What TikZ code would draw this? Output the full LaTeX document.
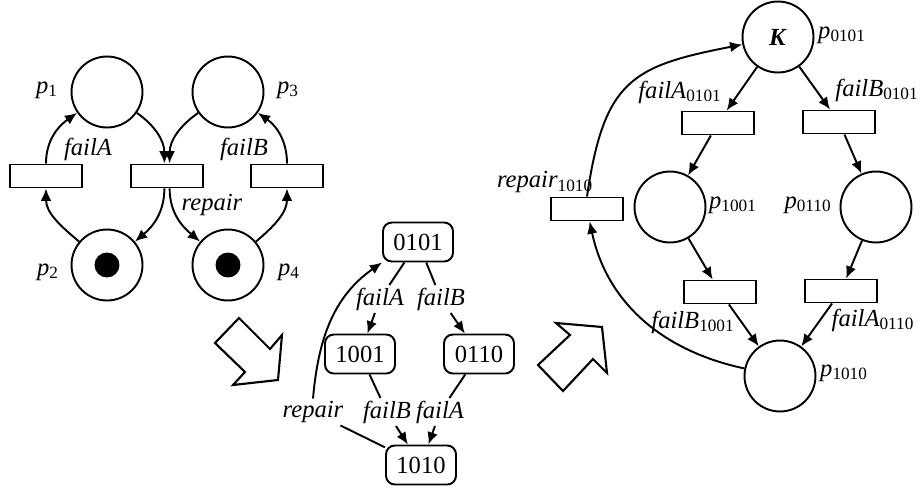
\documentclass[tikz,border=0pt]{standalone}
\usepackage{fontspec}
\setmainfont{Liberation Serif}
\usepackage{tikz}
\usetikzlibrary{arrows.meta}
\newcommand{\pnsub}[2]{\textit{#1}\textsubscript{#2}}

\begin{document}
\begin{tikzpicture}[place/.style={shape=circle,draw,minimum size=1.42cm,inner sep=0},
							trans/.style={shape=rectangle,draw,minimum width=1.45cm,minimum height=0.46cm,inner sep=0},
							state/.style={shape=rectangle,draw,rounded corners=5pt,minimum width=1.4cm,minimum height=0.78cm},
							token/.style={shape=circle,fill,minimum size=0.5cm,inner sep=0},
							lbl/.style={inner sep=1pt},
							arc/.style={->}, hollow/.style={line width=1.2pt,line join=miter},
							>={Latex[length=7pt,width=6pt]}, line width=1.1pt, x=0.02cm, y=0.02cm, font=\fontsize{14}{16}\selectfont]
			\useasboundingbox (0,0) rectangle (920,-490);
			% net with two components
			\node[place] (p1) at (107,-92) {};
			\node[place] (p3) at (228,-92) {};
			\node[place] (p2) at (107,-265) {};
			\node[place] (p4) at (228,-265) {};
			\node[token] (k2) at (p2) {};
			\node[token] (k4) at (p4) {};
			\node[trans] (tA) at (46,-176) {};
			\node[trans] (tR) at (167,-176) {};
			\node[trans] (tB) at (287,-176) {};
			\node (lp1) at (47,-90) {\pnsub{p}{1}};
			\node (lp3) at (288,-90) {\pnsub{p}{3}};
			\node (lp2) at (48,-272) {\pnsub{p}{2}};
			\node (lp4) at (289,-272) {\pnsub{p}{4}};
			\node[lbl] (ltA) at (88,-149) {\textit{failA}};
			\node[lbl] (ltB) at (244,-149) {\textit{failB}};
			\node[lbl] (ltR) at (212,-205) {\textit{repair}};
			\draw[arc] (p2) to[out=140,in=-90] (tA); \draw[arc] (tA) to[out=90,in=215] (p1);
			\draw[arc] (p1) to[out=-35,in=90] ([xshift=-1.5pt]tR.north); \draw[arc] (p3) to[out=215,in=90] ([xshift=1.5pt]tR.north);
			\draw[arc] ([xshift=-1.5pt]tR.south) to[out=-90,in=40] (p2); \draw[arc] ([xshift=1.5pt]tR.south) to[out=-90,in=140] (p4);
			\draw[arc] (p4) to[out=40,in=-90] (tB); \draw[arc] (tB) to[out=90,in=-35] (p3);
			% reachability graph
			\node[state] (s0101) at (418,-242) {0101};
			\node[state] (s1001) at (360,-354) {1001};
			\node[state] (s0110) at (479,-354) {0110};
			\node[state] (s1010) at (421,-465) {1010};
			\node[lbl] (gA1) at (380,-299) {\textit{failA}};
			\node[lbl] (gB1) at (441,-299) {\textit{failB}};
			\node[lbl] (gB2) at (387,-412) {\textit{failB}};
			\node[lbl] (gA2) at (440,-412) {\textit{failA}};
			\node[lbl] (gR) at (313,-412) {\textit{repair}};
			\draw (s0101) -- (gA1); \draw[arc] (gA1) -- (s1001);
			\draw (s0101) -- (gB1); \draw[arc] (gB1) -- (s0110);
			\draw (s1001) -- (gB2); \draw[arc] (gB2) -- (s1010);
			\draw (s0110) -- (gA2); \draw[arc] (gA2) -- (s1010);
			\draw (s1010) -- (gR); \draw[arc] (gR.north) to[out=85,in=215] (s0101.south west);
			% unfolded net
			\node[place] (q0101) at (778,-37) {\textbf{\textit{K}}};
			\node[place] (q1001) at (670,-207) {};
			\node[place] (q0110) at (876,-207) {};
			\node[place] (q1010) at (780,-376) {};
			\node[trans] (a0101) at (718,-123) {};
			\node[trans] (b0101) at (839,-122) {};
			\node[trans] (b1001) at (720,-292) {};
			\node[trans] (a0110) at (841,-291) {};
			\node[trans] (r1010) at (587,-209) {};
			\node (lq0101) at (842,-35) {\pnsub{p}{0101}};
			\node (lq1001) at (733,-205) {\pnsub{p}{1001}};
			\node (lq0110) at (808,-205) {\pnsub{p}{0110}};
			\node (lq1010) at (844,-373) {\pnsub{p}{1010}};
			\node (la0101) at (680,-92) {\pnsub{failA}{0101}};
			\node (lb0101) at (877,-90) {\pnsub{failB}{0101}};
			\node (lb1001) at (693,-322) {\pnsub{failB}{1001}};
			\node (la0110) at (873,-320) {\pnsub{failA}{0110}};
			\node (lr1010) at (545,-182) {\pnsub{repair}{1010}};
			\draw[arc] (q0101) -- (a0101); \draw[arc] (q0101) -- (b0101);
			\draw[arc] (a0101) -- (q1001); \draw[arc] (b0101) -- (q0110);
			\draw[arc] (q1001) -- (b1001); \draw[arc] (q0110) -- (a0110);
			\draw[arc] (b1001) -- (q1010); \draw[arc] (a0110) -- (q1010);
			\draw[arc] (q1010) to[out=168,in=-78] (r1010);
			\draw[arc] (r1010.north) .. controls (604,-80) and (632,-66) .. (q0101.192);
			% hollow arrows
			\draw[hollow] (215,-343) -- (239,-318) -- (270,-349) -- (282,-335) -- (278,-380) -- (233,-385) -- (245,-372) -- cycle;
			\draw[hollow] (538,-365) -- (563,-391) -- (593,-359) -- (607,-373) -- (602,-327) -- (556,-323) -- (570,-335) -- cycle;
		\end{tikzpicture}
\end{document}
